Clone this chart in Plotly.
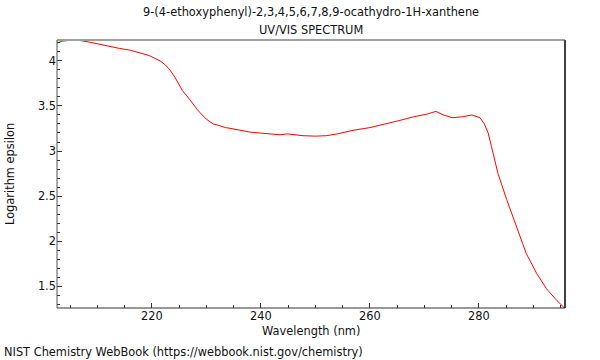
import plotly.graph_objects as go

wavelength = [202.6, 203.5, 205.0, 206.5, 208.5, 210.0, 212.3, 214.0, 216.0, 218.0,
              219.5, 220.5, 221.5, 222.4, 223.3, 224.2, 225.0, 225.6, 226.3, 227.0,
              227.7, 228.3, 229.0, 229.7, 230.5, 231.3, 232.5, 233.5, 234.5, 236.0,
              238.0, 239.8, 241.5, 243.5, 244.8, 246.0, 247.7, 250.0, 252.0, 254.0,
              256.9, 260.0, 263.0, 265.5, 268.0, 270.5, 272.1, 273.5, 275.1, 277.0,
              278.7, 280.2, 281.0, 281.7, 282.3, 283.5, 285.1, 286.9, 288.7, 290.6,
              292.4, 294.3, 295.8]
log_eps = [4.20, 4.22, 4.23, 4.23, 4.21, 4.19, 4.16, 4.14, 4.12, 4.09,
           4.06, 4.03, 4.00, 3.96, 3.90, 3.82, 3.74, 3.67, 3.62, 3.57,
           3.51, 3.46, 3.41, 3.37, 3.33, 3.30, 3.28, 3.26, 3.25, 3.23,
           3.21, 3.20, 3.19, 3.18, 3.19, 3.18, 3.17, 3.165, 3.17, 3.19,
           3.23, 3.26, 3.30, 3.34, 3.38, 3.41, 3.44, 3.40, 3.37, 3.38,
           3.40, 3.37, 3.30, 3.20, 3.05, 2.75, 2.46, 2.16, 1.86, 1.64,
           1.47, 1.34, 1.25]

x_ticks = [220, 240, 260, 280]
y_ticks = [1.5, 2, 2.5, 3, 3.5, 4]

title1 = "9-(4-ethoxyphenyl)-2,3,4,5,6,7,8,9-ocathydro-1H-xanthene"
title2 = "UV/VIS SPECTRUM"
xlabel = "Wavelength (nm)"
ylabel = "Logarithm epsilon"
footer = "NIST Chemistry WebBook (https://webbook.nist.gov/chemistry)"

W, H = 600, 360
L, R, T, B = 57, 35, 40, 52
pw, ph = W - L - R, H - T - B

def px_x(p):
    return (p - L) / pw

def px_y(p):
    return (H - B - p) / ph

fig = go.Figure()
fig.add_trace(go.Scatter(x=wavelength, y=log_eps, mode="lines",
                         line=dict(color="#ff0000", width=1), hoverinfo="skip"))

font = dict(family="DejaVu Sans", size=11.4, color="#111111")

fig.update_layout(
    width=W, height=H,
    margin=dict(l=L, r=R, t=T, b=B),
    paper_bgcolor="white", plot_bgcolor="white",
    showlegend=False,
    font=font,
    xaxis=dict(range=[202.57, 295.8], tickvals=x_ticks, ticks="inside", ticklen=5,
               tickcolor="#333333", showgrid=False, zeroline=False, showline=False,
               minor=dict(dtick=5, tick0=200, ticks="inside", ticklen=3, tickcolor="#333333"),
               tickfont=font),
    yaxis=dict(range=[1.256, 4.233], tickvals=y_ticks, ticktext=["1.5", "2", "2.5", "3", "3.5", "4"],
               ticks="inside", ticklen=5, tickcolor="#333333", showgrid=False,
               zeroline=False, showline=False,
               minor=dict(dtick=0.1, tick0=0, ticks="inside", ticklen=3, tickcolor="#333333"),
               tickfont=font),
)

shapes = [
    dict(type="line", xref="paper", yref="paper", x0=0, x1=1, y0=1, y1=1,
         line=dict(color="#a0a0a0", width=2)),
    dict(type="line", xref="paper", yref="paper", x0=1, x1=1, y0=0, y1=1,
         line=dict(color="#404040", width=2)),
    dict(type="line", xref="paper", yref="paper", x0=0, x1=1, y0=0, y1=0,
         line=dict(color="#333333", width=1)),
    dict(type="line", xref="paper", yref="paper", x0=0, x1=0, y0=0, y1=1,
         line=dict(color="#555555", width=1)),
]
fig.update_layout(shapes=shapes)

ann = [
    dict(text=title1, x=0.5, y=px_y(12)),
    dict(text=title2, x=0.5, y=px_y(30)),
    dict(text=xlabel, x=px_x(311), y=px_y(331)),
]
for a in ann:
    fig.add_annotation(xref="paper", yref="paper", showarrow=False,
                       xanchor="center", yanchor="middle", font=font, **a)
fig.add_annotation(xref="paper", yref="paper", showarrow=False, text=ylabel,
                   x=px_x(10), y=px_y(174), xanchor="center", yanchor="middle",
                   textangle=-90, font=font)
fig.add_annotation(xref="paper", yref="paper", showarrow=False, text=footer,
                   x=px_x(2), y=px_y(352), xanchor="left", yanchor="middle", font=font)

fig.write_html("out.html", config={"displayModeBar": False},
               post_script="document.body.style.margin='0';document.body.style.padding='0';"
                           "document.documentElement.style.margin='0';")
